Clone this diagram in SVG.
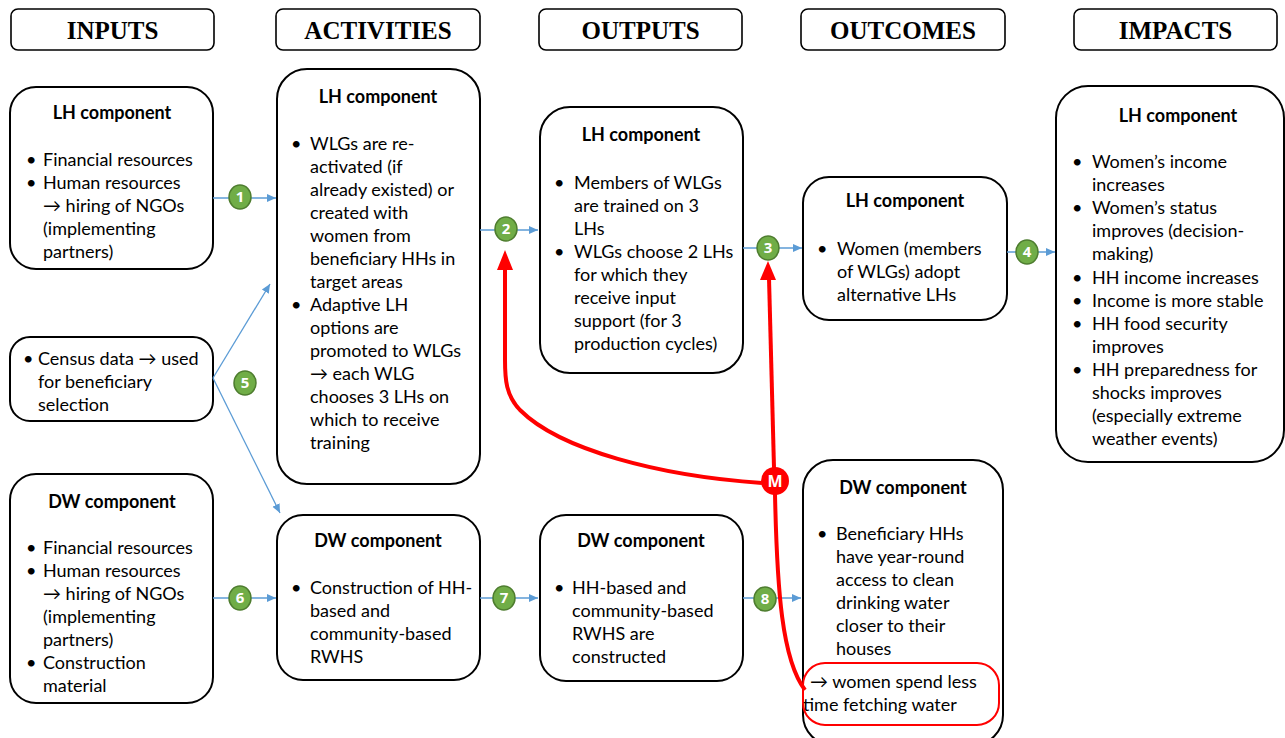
<svg xmlns="http://www.w3.org/2000/svg" width="1285" height="738" viewBox="0 0 1285 738">
<defs>
<style>
.hdr{fill:#fff;stroke:#000;stroke-width:1.6}
.hdrt{font-family:"Liberation Serif",serif;font-weight:bold;font-size:25px;text-anchor:middle;fill:#000}
.box{fill:#fff;stroke:#000;stroke-width:2}
.ttl{font-family:Lato,"Liberation Sans",sans-serif;font-weight:bold;font-size:18px;text-anchor:middle;fill:#000}
.tx{font-family:Lato,"Liberation Sans",sans-serif;font-size:18px;fill:#000}
.bl{stroke:#5b9bd5;stroke-width:1.3;fill:none}
.num{fill:#70ad47;stroke:#4e7d2f;stroke-width:1.5}
.numt{font-family:"Open Sans","Liberation Sans",sans-serif;font-weight:bold;font-size:15px;fill:#fff;text-anchor:middle}
.red{stroke:#ff0000;stroke-width:4;fill:none}
</style>
<marker id="ab" markerWidth="10" markerHeight="10" refX="9" refY="5" orient="auto" markerUnits="userSpaceOnUse"><path d="M0,1 L9,5 L0,9 Z" fill="#5b9bd5"/></marker>
</defs>

<g id="headers">
<rect class="hdr" x="11" y="9" width="203" height="41" rx="7"/><text class="hdrt" x="112.5" y="39">INPUTS</text>
<rect class="hdr" x="276" y="9" width="204" height="41" rx="7"/><text class="hdrt" x="378" y="39">ACTIVITIES</text>
<rect class="hdr" x="539" y="9" width="203" height="41" rx="7"/><text class="hdrt" x="640.5" y="39">OUTPUTS</text>
<rect class="hdr" x="801" y="9" width="204" height="41" rx="7"/><text class="hdrt" x="903" y="39">OUTCOMES</text>
<rect class="hdr" x="1074" y="9" width="203" height="41" rx="7"/><text class="hdrt" x="1175.5" y="39">IMPACTS</text>
</g>

<g id="inputs-lh">
<rect class="box" x="10" y="87" width="203" height="182" rx="26"/>
<text class="ttl" x="112" y="119">LH component</text>
<text class="tx"><tspan x="26" y="166">•</tspan><tspan x="43" y="166">Financial resources</tspan><tspan x="26" y="189">•</tspan><tspan x="43" y="189">Human resources</tspan><tspan x="43" y="212">→ hiring of NGOs</tspan><tspan x="43" y="235">(implementing</tspan><tspan x="43" y="258">partners)</tspan></text>
</g>

<g id="inputs-census">
<rect class="box" x="10" y="337" width="203" height="84" rx="20"/>
<text class="tx"><tspan x="23" y="365">•</tspan><tspan x="38" y="365">Census data → used</tspan><tspan x="38" y="388">for beneficiary</tspan><tspan x="38" y="411">selection</tspan></text>
</g>

<g id="inputs-dw">
<rect class="box" x="10" y="474" width="203" height="229" rx="26"/>
<text class="ttl" x="112" y="508">DW component</text>
<text class="tx"><tspan x="26" y="554">•</tspan><tspan x="43" y="554">Financial resources</tspan><tspan x="26" y="577">•</tspan><tspan x="43" y="577">Human resources</tspan><tspan x="43" y="600">→ hiring of NGOs</tspan><tspan x="43" y="623">(implementing</tspan><tspan x="43" y="646">partners)</tspan><tspan x="26" y="669">•</tspan><tspan x="43" y="669">Construction</tspan><tspan x="43" y="692">material</tspan></text>
</g>

<g id="activities-lh">
<rect class="box" x="277" y="69" width="203" height="415" rx="30"/>
<text class="ttl" x="378" y="103">LH component</text>
<text class="tx"><tspan x="291" y="150">•</tspan><tspan x="310" y="150">WLGs are re-</tspan><tspan x="310" y="173">activated (if</tspan><tspan x="310" y="196">already existed) or</tspan><tspan x="310" y="219">created with</tspan><tspan x="310" y="242">women from</tspan><tspan x="310" y="265">beneficiary HHs in</tspan><tspan x="310" y="288">target areas</tspan><tspan x="291" y="311">•</tspan><tspan x="310" y="311">Adaptive LH</tspan><tspan x="310" y="334">options are</tspan><tspan x="310" y="357">promoted to WLGs</tspan><tspan x="310" y="380">→ each WLG</tspan><tspan x="310" y="403">chooses 3 LHs on</tspan><tspan x="310" y="426">which to receive</tspan><tspan x="310" y="449">training</tspan></text>
</g>

<g id="activities-dw">
<rect class="box" x="277" y="515" width="203" height="165" rx="26"/>
<text class="ttl" x="378" y="547">DW component</text>
<text class="tx"><tspan x="291" y="594">•</tspan><tspan x="310" y="594">Construction of HH-</tspan><tspan x="310" y="617">based and</tspan><tspan x="310" y="640">community-based</tspan><tspan x="310" y="663">RWHS</tspan></text>
</g>

<g id="outputs-lh">
<rect class="box" x="540" y="107" width="203" height="266" rx="30"/>
<text class="ttl" x="641" y="141">LH component</text>
<text class="tx"><tspan x="554" y="189">•</tspan><tspan x="574" y="189">Members of WLGs</tspan><tspan x="574" y="212">are trained on 3</tspan><tspan x="574" y="235">LHs</tspan><tspan x="554" y="258">•</tspan><tspan x="574" y="258">WLGs choose 2 LHs</tspan><tspan x="574" y="281">for which they</tspan><tspan x="574" y="304">receive input</tspan><tspan x="574" y="327">support (for 3</tspan><tspan x="574" y="350">production cycles)</tspan></text>
</g>

<g id="outputs-dw">
<rect class="box" x="540" y="515" width="203" height="166" rx="26"/>
<text class="ttl" x="641" y="547">DW component</text>
<text class="tx"><tspan x="554" y="594">•</tspan><tspan x="572" y="594">HH-based and</tspan><tspan x="572" y="617">community-based</tspan><tspan x="572" y="640">RWHS are</tspan><tspan x="572" y="663">constructed</tspan></text>
</g>

<g id="outcomes-lh">
<rect class="box" x="803" y="177" width="204" height="143" rx="26"/>
<text class="ttl" x="905" y="207">LH component</text>
<text class="tx"><tspan x="817" y="255">•</tspan><tspan x="837" y="255">Women (members</tspan><tspan x="837" y="278">of WLGs) adopt</tspan><tspan x="837" y="301">alternative LHs</tspan></text>
</g>

<g id="outcomes-dw">
<rect class="box" x="803" y="460" width="200" height="285" rx="30"/>
<text class="ttl" x="903" y="494">DW component</text>
<text class="tx"><tspan x="817" y="540">•</tspan><tspan x="836" y="540">Beneficiary HHs</tspan><tspan x="836" y="563">have year-round</tspan><tspan x="836" y="586">access to clean</tspan><tspan x="836" y="609">drinking water</tspan><tspan x="836" y="632">closer to their</tspan><tspan x="836" y="655">houses</tspan></text>
<rect x="803" y="663" width="196" height="62" rx="22" fill="none" stroke="#ff0000" stroke-width="2"/>
<text class="tx"><tspan x="810" y="688">→ women spend less</tspan><tspan x="803" y="711">time fetching water</tspan></text>
</g>

<g id="impacts-lh">
<rect class="box" x="1056" y="86" width="228" height="376" rx="32"/>
<text class="ttl" x="1178" y="122">LH component</text>
<text class="tx"><tspan x="1072" y="168">•</tspan><tspan x="1092" y="168">Women’s income</tspan><tspan x="1092" y="191">increases</tspan><tspan x="1072" y="214">•</tspan><tspan x="1092" y="214">Women’s status</tspan><tspan x="1092" y="237">improves (decision-</tspan><tspan x="1092" y="260">making)</tspan><tspan x="1072" y="284">•</tspan><tspan x="1092" y="284">HH income increases</tspan><tspan x="1072" y="307">•</tspan><tspan x="1092" y="307">Income is more stable</tspan><tspan x="1072" y="330">•</tspan><tspan x="1092" y="330">HH food security</tspan><tspan x="1092" y="353">improves</tspan><tspan x="1072" y="376">•</tspan><tspan x="1092" y="376">HH preparedness for</tspan><tspan x="1092" y="399">shocks improves</tspan><tspan x="1092" y="422">(especially extreme</tspan><tspan x="1092" y="445">weather events)</tspan></text>
</g>

<g id="connectors">
<line class="bl" x1="213" y1="198" x2="276" y2="198" marker-end="url(#ab)"/>
<line class="bl" x1="480" y1="230" x2="538" y2="230" marker-end="url(#ab)"/>
<line class="bl" x1="743" y1="248" x2="802" y2="248" marker-end="url(#ab)"/>
<line class="bl" x1="1007" y1="252" x2="1055" y2="252" marker-end="url(#ab)"/>
<line class="bl" x1="213" y1="378" x2="270" y2="284" marker-end="url(#ab)"/>
<line class="bl" x1="213" y1="378" x2="280" y2="513" marker-end="url(#ab)"/>
<line class="bl" x1="213" y1="598" x2="276" y2="598" marker-end="url(#ab)"/>
<line class="bl" x1="480" y1="598" x2="538" y2="598" marker-end="url(#ab)"/>
<line class="bl" x1="743" y1="598" x2="801" y2="598" marker-end="url(#ab)"/>

<path class="red" d="M762,483 C660,476 560,450 520,410 C506,395 505,380 505,360 L505,268"/>
<path d="M505,250 L513,270 L497,270 Z" fill="#ff0000"/>
<path class="red" d="M774,468 L769,278"/>
<path d="M768,261 L776,280 L760,280 Z" fill="#ff0000"/>
<path class="red" d="M775,494 C777,590 782,660 805,690"/>
</g>

<g id="markers">
<ellipse class="num" cx="240" cy="197" rx="11" ry="12"/><text class="numt" x="240" y="202">1</text>
<ellipse class="num" cx="506" cy="229" rx="11" ry="12"/><text class="numt" x="506" y="234">2</text>
<ellipse class="num" cx="768" cy="248" rx="11" ry="12"/><text class="numt" x="768" y="253">3</text>
<ellipse class="num" cx="1027" cy="252" rx="11" ry="12"/><text class="numt" x="1027" y="257">4</text>
<ellipse class="num" cx="245" cy="383" rx="11" ry="12"/><text class="numt" x="245" y="388">5</text>
<ellipse class="num" cx="240" cy="598" rx="11" ry="12"/><text class="numt" x="240" y="603">6</text>
<ellipse class="num" cx="504" cy="598" rx="11" ry="12"/><text class="numt" x="504" y="603">7</text>
<ellipse class="num" cx="765" cy="599" rx="11" ry="12"/><text class="numt" x="765" y="604">8</text>
<circle cx="775" cy="481" r="14" fill="#ff0000"/><text x="775" y="487" font-family="'Open Sans','Liberation Sans',sans-serif" font-weight="bold" font-size="16" fill="#fff" text-anchor="middle">M</text>
</g>
</svg>
